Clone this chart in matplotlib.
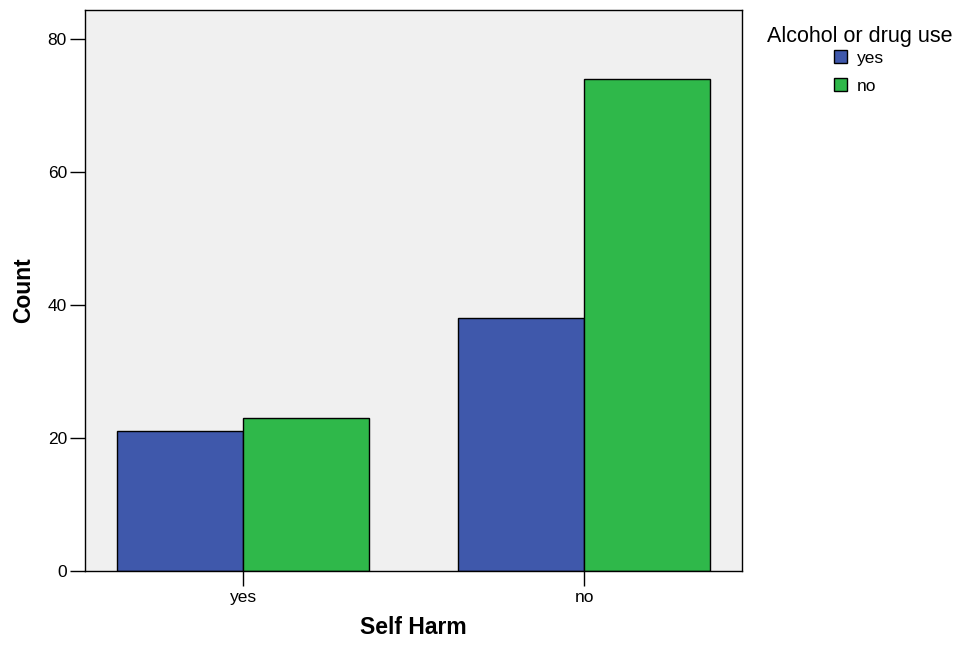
import matplotlib.pyplot as plt
from matplotlib.patches import Patch
import numpy as np

plt.rcParams['font.family'] = ['Liberation Sans', 'DejaVu Sans']

# data
categories = ["yes", "no"]          # Self Harm
groups = ["yes", "no"]              # Alcohol or drug use
counts_yes = [21, 38]
counts_no = [23, 74]
colors = ["#3F58AB", "#2FB84A"]

fig = plt.figure(figsize=(9.62, 6.46), dpi=100)
ax = fig.add_axes([0.0884, 0.1161, 0.683, 0.8684])
ax.set_facecolor("#F0F0F0")

x = np.arange(len(categories))
w = 0.3695
ax.bar(x - w / 2, counts_yes, width=w, color=colors[0], edgecolor="black", linewidth=1, zorder=2)
ax.bar(x + w / 2, counts_no, width=w, color=colors[1], edgecolor="black", linewidth=1, zorder=2)

ax.set_xlim(-0.463, 1.463)
ax.set_ylim(0, 84.4)
ax.set_yticks([0, 20, 40, 60, 80])
ax.set_xticks(x)
ax.set_xticklabels(categories)
ax.tick_params(axis="both", direction="out", length=11, width=1, labelsize=12.5, color="black")
ax.tick_params(axis="y", pad=2)
ax.tick_params(axis="x", pad=2.5)
for s in ax.spines.values():
    s.set_linewidth(1)
    s.set_color("black")

ax.set_xlabel("Self Harm", fontsize=16.5, fontweight="bold", labelpad=8)
ax.set_ylabel("Count", fontsize=16.5, fontweight="bold", labelpad=9)

# legend title as separate text so the row spacing can be tuned on its own
fig.text(0.894, 0.935, "Alcohol or drug use", fontsize=15.5, ha="center", va="baseline")
handles = [Patch(facecolor=colors[i], edgecolor="black", linewidth=1, label=groups[i]) for i in range(2)]
leg = fig.legend(handles=handles, loc="upper left",
                 bbox_to_anchor=(0.867, 0.9224), frameon=False, fontsize=12.5,
                 handlelength=0.75, handleheight=0.75,
                 handletextpad=0.57, labelspacing=0.74, borderpad=0, borderaxespad=0)

fig.savefig("out.png", dpi=100)
